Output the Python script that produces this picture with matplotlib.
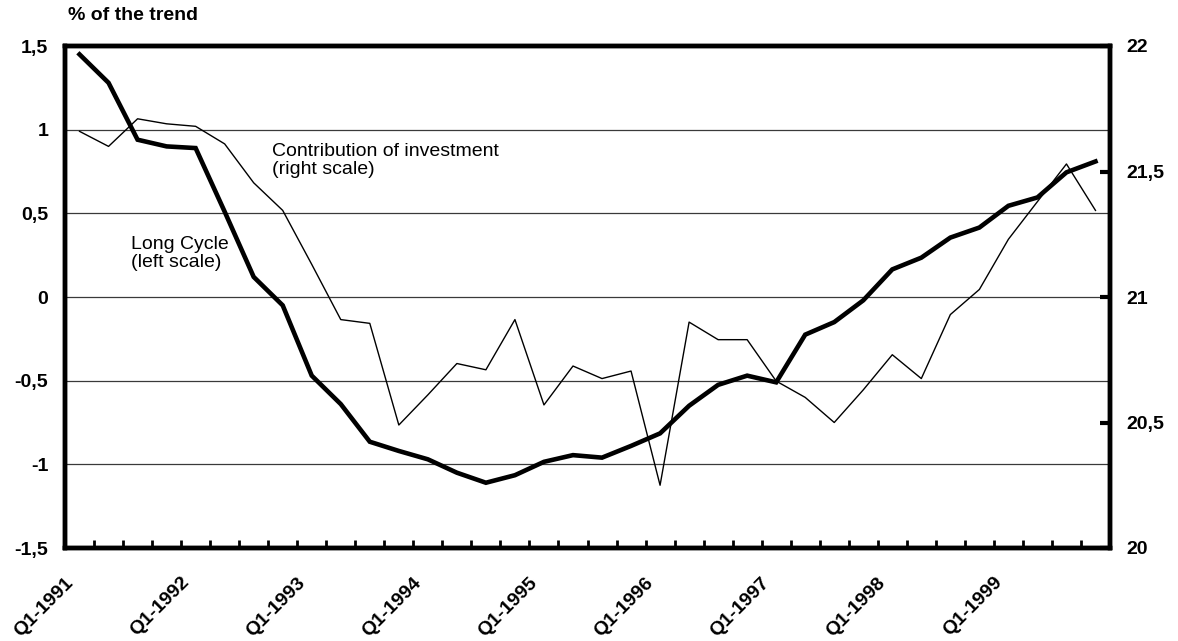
import numpy as np
import matplotlib
matplotlib.use("Agg")
from matplotlib import pyplot as plt
from matplotlib import transforms

# quarterly data, Q1-1991 .. Q4-1999
quarters = ["Q%d-%d" % (q, y) for y in range(1991, 2000) for q in range(1, 5)]

long_cycle = [1.45, 1.28, 0.94, 0.90, 0.89, 0.51, 0.12, -0.05, -0.47, -0.64,
              -0.865, -0.92, -0.97, -1.05, -1.11, -1.065, -0.985, -0.945, -0.96, -0.89,
              -0.815, -0.65, -0.525, -0.47, -0.51, -0.225, -0.15, -0.02, 0.165, 0.235,
              0.355, 0.415, 0.545, 0.595, 0.745, 0.81]

investment = [21.66, 21.60, 21.71, 21.69, 21.68, 21.61, 21.455, 21.345, 21.13, 20.91,
              20.895, 20.49, 20.61, 20.735, 20.71, 20.91, 20.57, 20.725, 20.675, 20.705,
              20.25, 20.90, 20.83, 20.83, 20.665, 20.60, 20.50, 20.63, 20.77, 20.675,
              20.93, 21.03, 21.23, 21.38, 21.53, 21.345]

left_ticks = [-1.5, -1, -0.5, 0, 0.5, 1, 1.5]
left_labels = ["-1,5", "-1", "-0,5", "0", "0,5", "1", "1,5"]
right_ticks = [20, 20.5, 21, 21.5, 22]
right_labels = ["20", "20,5", "21", "21,5", "22"]

W, H = 1178, 641


def main():
    plt.rcParams["font.family"] = ["Liberation Sans", "DejaVu Sans"]
    fig = plt.figure(figsize=(W/100, H/100), dpi=100)
    ax = fig.add_axes([65/W, 1-548/H, (1110-65)/W, (548-46)/H])
    x = np.arange(len(quarters))

    # gridlines on the left scale
    for v in [-1, -0.5, 0, 0.5, 1]:
        ax.axhline(v, color="#3a3a3a", lw=0.9, zorder=1)

    ax.plot(x, long_cycle, color="black", lw=3.3, zorder=3, solid_joinstyle="miter")
    ax.set_ylim(-1.5, 1.5)
    ax.set_xlim(-0.5, len(quarters)-0.5)
    ax.set_yticks(left_ticks)
    ax.set_yticklabels(left_labels, fontsize=14, fontweight="bold")
    ax.tick_params(axis="y", length=0, pad=12)

    # tick marks at the category boundaries, labels every 4th quarter
    ax.set_xticks(np.arange(0.5, len(quarters)-1, 1.0))
    ax.set_xticklabels([])
    ax.tick_params(axis="x", which="major", direction="in", length=6, width=2)
    ax.set_xticks(x[::4], minor=True)
    ax.set_xticklabels(quarters[::4], minor=True, rotation=45, ha="right",
                       va="center", rotation_mode="anchor",
                       fontsize=14, fontweight="bold")
    ax.tick_params(axis="x", which="minor", length=0, pad=0)
    off = transforms.ScaledTranslation(-9/100, -32/100, fig.dpi_scale_trans)
    for lab in ax.get_xticklabels(minor=True):
        lab.set_transform(lab.get_transform() + off)

    for s in ax.spines.values():
        s.set_linewidth(3.2)

    ax2 = ax.twinx()
    ax2.plot(x, investment, color="black", lw=1.0, zorder=3)
    ax2.set_ylim(20, 22)
    ax2.set_yticks(right_ticks)
    ax2.set_yticklabels(right_labels, fontsize=14, fontweight="bold")
    ax2.tick_params(axis="y", direction="in", length=7, width=3, pad=12)
    for s in ax2.spines.values():
        s.set_linewidth(3.2)

    fig.text(272/W, 1-143/H, "Contribution of investment\n(right scale)",
             fontsize=14, va="top", ha="left", linespacing=1.1)
    fig.text(131/W, 1-236/H, "Long Cycle\n(left scale)",
             fontsize=14, va="top", ha="left", linespacing=1.1)

    fig.text(68/W, 1-16/H, "% of the trend", fontsize=14,
             fontweight="bold", va="center", ha="left")

    fig.savefig("out.png", dpi=100)


if __name__ == "__main__":
    main()
